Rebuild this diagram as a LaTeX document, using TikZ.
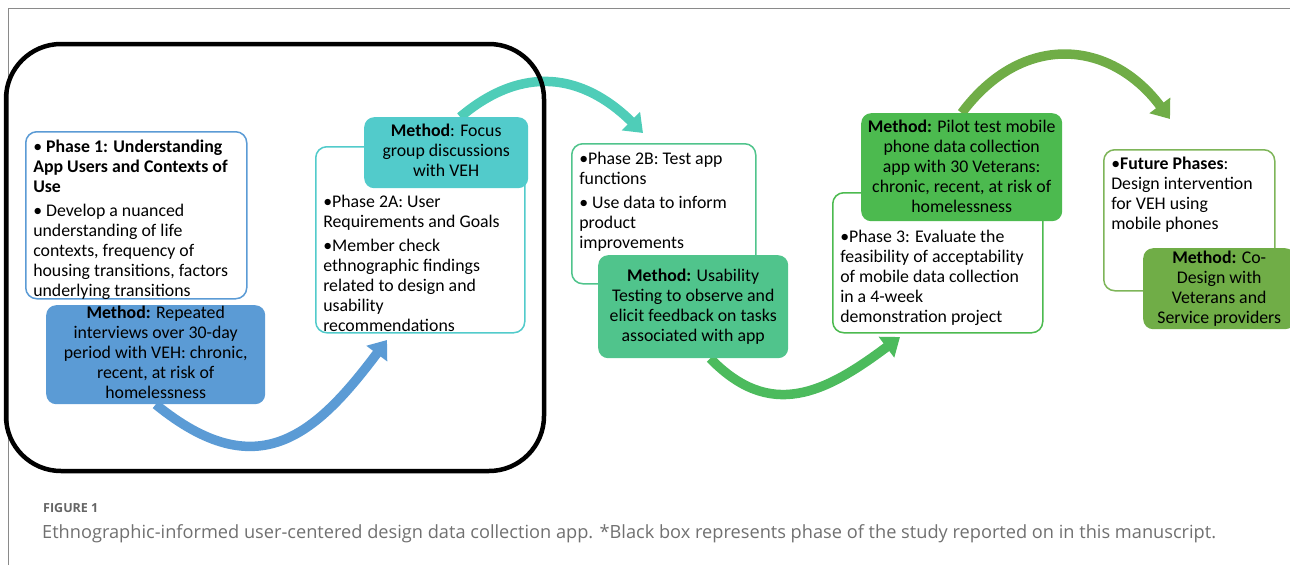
\documentclass[tikz,border=0pt]{standalone}
\usepackage{fontspec}
\setmainfont{Carlito}
\newfontfamily\capfont{Open Sans}
\usetikzlibrary{arrows.meta,positioning}

\definecolor{frameg}{HTML}{8A8A8A}
\definecolor{capg}{HTML}{707070}
\definecolor{blueA}{HTML}{5B9BD5}
\definecolor{tealA}{HTML}{52CBCB}
\definecolor{tealB}{HTML}{4FCDB8}
\definecolor{greenA}{HTML}{50C48C}
\definecolor{greenB}{HTML}{4CBB5D}
\definecolor{greenC}{HTML}{4CBA4F}
\definecolor{oliveA}{HTML}{70AD47}

\pgfdeclarelayer{back}
\pgfsetlayers{back,main}

% bullets with hanging lines
\newlength\bulw
\newcommand{\bitem}{\par\settowidth\bulw{\textbullet}\hangindent=\bulw\hangafter=1\noindent\strut\textbullet}
\newcommand{\nextitem}{\par\vspace{4pt}\bitem}
% box text: width, height, first baseline, text
\newcommand{\lcell}[4]{\makebox[#1][l]{\parbox[c][#2][t]{\dimexpr#1+40pt\relax}{\raggedright\leftskip=7.5pt\relax\vspace*{\dimexpr#3-14pt\relax}#4}}}
\newcommand{\ccell}[4]{\makebox[#1][c]{\parbox[c][#2][t]{\dimexpr#1+40pt\relax}{\centering\vspace*{\dimexpr#3-14pt\relax}\strut#4}}}

\begin{document}
\begin{tikzpicture}[x=1pt,y=-1pt,font=\fontsize{17.8}{20}\selectfont,
  phase/.style={draw,line width=1.5pt,rounded corners=11pt,fill=white,inner sep=0pt,anchor=north west},
  method/.style={rounded corners=10pt,inner sep=0pt,anchor=north west},
  flow/.style={line width=9.5pt,-{Triangle[width=25pt,length=17pt]}}]
  \useasboundingbox (0,0) rectangle (1290,565);
  \draw[frameg,line width=1pt] (8,565) -- (8,8) -- (1290,8);

  % phase boxes
  \node[phase,draw=blueA] (p1) at (25,131)
    {\lcell{221pt}{167pt}{20.5pt}{\bitem\ \textbf{Phase 1: Understanding\\App Users and Contexts of\\Use}
      \nextitem\ Develop a nuanced\\understanding of life\\contexts, frequency of\\housing transitions, factors\\underlying transitions}};
  \node[phase,draw=tealA] (p2a) at (315,146)
    {\lcell{209pt}{186pt}{60.5pt}{\bitem Phase 2A: User\\Requirements and Goals
      \nextitem Member check\\ethnographic findings\\related to design and\\usability\\recommendations}};
  \node[phase,draw=greenA] (p2b) at (571,143)
    {\lcell{184pt}{140pt}{20.5pt}{\bitem Phase 2B: Test app\\functions
      \nextitem\ Use data to inform\\product\\improvements}};
  \node[phase,draw=greenC] (p3) at (832,192)
    {\lcell{210pt}{140pt}{49.5pt}{\bitem Phase 3: Evaluate the\\feasibility of acceptability\\of mobile data collection\\in a 4-week\\demonstration project}};
  \node[phase,draw=oliveA!90] (fut) at (1103,149)
    {\lcell{171pt}{141pt}{19.5pt}{\bitem\textbf{Future Phases}:\\Design intervention\\for VEH using\\mobile phones}};

  % method boxes
  \node[method,fill=blueA] (m1) at (46,305)
    {\ccell{219pt}{99pt}{13.5pt}{\textbf{Method:} Repeated\\interviews over 30-day\\period with VEH: chronic,\\recent, at risk of\\homelessness}};
  \node[method,fill=tealA] (m2a) at (364,117)
    {\ccell{164pt}{71pt}{19.5pt}{\textbf{Method}: Focus\\group discussions\\with VEH}};
  \node[method,fill=greenA] (m2b) at (598,255)
    {\ccell{190pt}{103pt}{26.5pt}{\textbf{Method:} Usability\\Testing to observe and\\elicit feedback on tasks\\associated with app}};
  \node[method,fill=greenC] (m3) at (861,113)
    {\ccell{201pt}{108pt}{19.5pt}{\textbf{Method:} Pilot test mobile\\phone data collection\\app with 30 Veterans:\\chronic, recent, at risk of\\homelessness}};
  \node[method,fill=oliveA] (m4) at (1143,248)
    {\ccell{152pt}{81pt}{15.5pt}{\textbf{Method:} Co-\\Design with\\Veterans and\\Service providers}};

  % arrow ends
  \coordinate (t1) at (387,340);
  \coordinate (t2) at (643,133);
  \coordinate (t3) at (900,337);
  \coordinate (t4) at (1170,119);

  \begin{pgfonlayer}{back}
    \draw[flow,blueA] (m1.south) .. controls (257,487) and (315,436) .. (t1);
    \draw[flow,tealB] ([xshift=14pt]m2a.north) .. controls (523,64) and (583,74) .. (t2);
    \draw[flow,greenB] ([xshift=17pt]m2b.south) .. controls (770,420) and (824,394) .. (t3);
    \draw[flow,oliveA] (m3.north) .. controls (1022,32) and (1110,39) .. (t4);
  \end{pgfonlayer}

  % reported phase
  \draw[line width=4.5pt,rounded corners=55pt] (6,44) rectangle (544,471);

  % caption
  \node[anchor=base west,inner sep=0pt,text=capg!90!black,font=\capfont\bfseries\fontsize{12.5}{14}\selectfont] (fig) at (43,512) {FIGURE 1};
  \node[anchor=base west,inner sep=0pt,text=capg,font=\capfont\fontsize{18.2}{21}\selectfont] (cap) at (42,538)
    {Ethnographic-informed user-centered design data collection app. *Black box represents phase of the study reported on in this manuscript.};
\end{tikzpicture}
\end{document}
